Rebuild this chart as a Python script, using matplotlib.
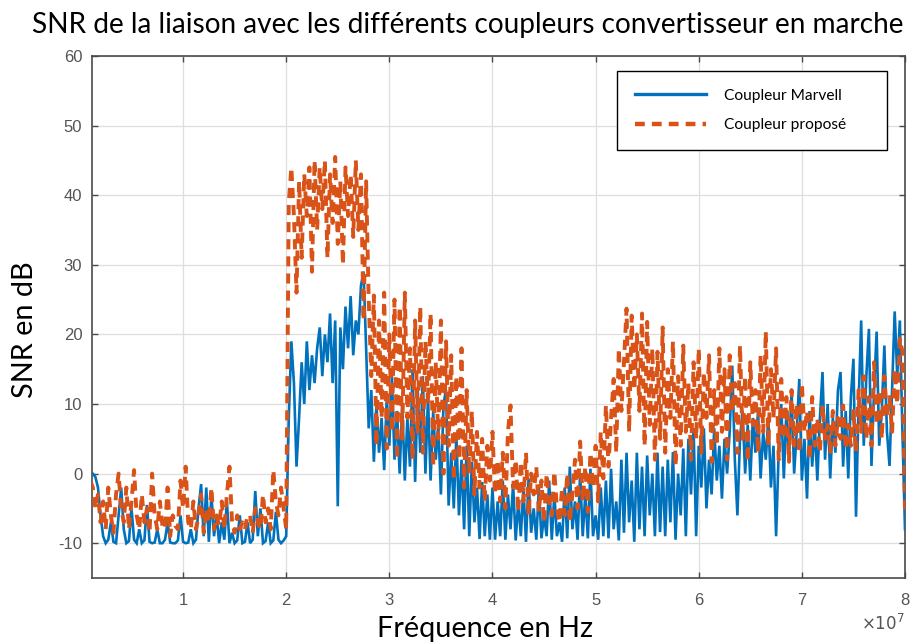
import numpy as np
import matplotlib
matplotlib.use("Agg")
import matplotlib.pyplot as plt
from matplotlib.lines import Line2D

# Frequency sampling grid (MHz), 0.25 MHz steps from 1 to 80 MHz
freq_mhz = np.arange(1.0, 80.001, 0.25)

# SNR (dB) with the Marvell coupler, one row per 5 MHz
snr_marvell = [
    0, 0, -0.5, -2, -6, -9, -10, -9.5, -7, -9.8, -10, -6, -2, -8, -10, -9.7, -5, -9.5, -10, -8,
    -10, -9.6, -4.5, -9.8, -10, -9.9, -8, -10, -10, -9.5, -7, -9.9, -10, -10, -9.6, -6, -9.8, -10, -9.9, -8,
    -10, -9.5, -5, -1.5, -9, -2, -9.8, -3, -9, -6, -10, -7, -9.5, -4, -10, -8.5, -10, -9.6, -6, -10,
    -9.8, -7, -10, -9.5, -2.5, -9, -5, -10, -9.7, -7, -10, -9.6, -5.5, -9.5, -10, -9.6, -9, 8, 19, 13,
    1, 8, 16, 10, 19, 12, 17, 13, 18, 21, 14, 20, 16, 23, 13, 22, -4.7, 21, 15, 24,
    18, 25.5, 17, 22, 20, 27, 29, 18, 6.5, 12, 1.7, 10, 3, 8, 0.5, 11, 4, 14, 2, 9,
    0, 10, -1, 8, 1, 15, -1.2, 12, 3, 14, 0, 11, -1, 9, 2, 7, -3, 10, 12, -4.6,
    3, -5, 5.5, -6, 2, -8, 4, -9, 1.7, -7, -2, -9.4, -1.2, -9, -3, -9.5, -2, -9.5, -4, -9,
    -1, -9.5, -3, -8, -1.5, -9.6, -4, -9, -2, -9.8, -0.7, -8.5, -5, -9.5, -2, -9.3, -6, -9, -1, -9.5,
    -3, -9, -7, -9.8, -2, -9.3, 1, -8, -4, -9.5, 0, -9, -3, -9.3, 0.7, -9, -6, -9.5, -2, -9,
    -1, -9.3, 0.7, -8, -4, -9.6, 2, -8.5, 3, -7, -1, -9.8, 3, -8, 1, -9, 2.6, -6, 0, -9,
    3, -8.4, 1, -9, 2, -7, 3.1, -9.5, 0, -6, 3.6, -9, 5, -3, 6.5, -9, 4, -2, 6.5, -5,
    2, -3, 6.5, -1, 4, -3.6, 5, 0, 6, 15.5, 2, -6, 5, 9, 0, 7, -1, 8, 3, 9,
    -0.7, 6, 2, 8, -2, 4, -9, 3, 10, -0.7, 9, 2, 12, 0, 6, 13.6, -1, 5, -3.6, 9,
    1, 7, -1, 8, 14.6, 2, 10, -0.7, 8, 3, 12, 14.6, 1, 9, -0.7, 11, 16.5, -6.2, 10, 22,
    4, 14, 20.8, 1.1, 12, 20.4, 4, 9, 18.4, 6, 1.1, 12, 23.3, 14, 22, 6, -8,
]

# SNR (dB) with the proposed coupler, one row per 5 MHz
snr_propose = [
    -1, -2, -5, -3, -7, -4, -8, -2, -6, -8.5, -3, 0, -5, -7, -2, -8, -4, 0.5, -6, -8,
    -3, -7, -5, -8.5, 0, -6, -8, -4, -7.5, -8, -2, -9, -6, -7.5, -8, -1, -5, 1, -7, -8,
    -4, -8, -6, -3, -8.5, -5, -7, -2, -8, -6, -7.5, -4, -8, -3, 1, -7, -8.5, -6, -8, -7,
    -8, -6, -6, -8.5, -5, -7, -8, -3, -7, -5, -8, 0.5, -4, -6, -2, -5, -8, 39, 44, 37,
    26, 42, 31, 43, 37, 44, 29, 45, 35, 44, 38, 45, 31, 43, 36, 45.5, 33, 42, 30, 44,
    37, 43, 34, 45, 35, 43, 22, 42, 25, 14, 25.6, 4, 22, 8, 26, 3.6, 20, 6, 25, 2,
    24, 5, 26, 8, 18, 2, 22, 6, 24, 3, 19, 10, 23, 1, 16, 5, 22, 0, 19, 4,
    17, -1, 14, 2, 18, -2, 12, 0, 9, -3, 6, -2, 5, -4, 4, -1, 6, -3, 2, -4,
    3, -5, 6, 9.8, -2, 2, -5.5, 1.7, -4, 3, -6, 0, -3, 1, -5.5, -1, -7, 0, -4, -6,
    0.3, -5, -7, -2, -6, 0, -7, -3, 2, -5, 4.6, -4, 1, -5.5, 3, -2, 4, -4, 6, -0.7,
    9.8, 1, 8, 13.6, 3, 18, 9, 16, 23.7, 6, 22.7, 12, 20, 9, 23, 4, 21.8, 7, 18, 2,
    17.5, 5, 21, 3, 15, 8, 19, 1.1, 14, 4, 18.4, 6, 13, 2, 16, 5, 18, 3, 14.6, 8,
    17, 1.7, 12, 4, 18, 6, 15, 2, 17, 9, 13, 3, 18.4, 5, 14, 1.7, 16, 7, 12, 3,
    17, 6, 20.4, 4, 15, 8, 18, 2, 13.6, 5, 11, 1.7, 12, 4, 10, 3, 13, 6, 9, 2,
    11, 4, 8, 3.1, 9.8, 5, 7, 3.1, 9, 4, 8, 5, 9.8, 3.5, 7, 4, 9, 3.1, 12, 6,
    14, 5, 11, 4, 16, 7, 12, 5, 14, 8, 11, 6, 15, 10, 19.4, 17.5, -5.5,
]

series_labels = ["Coupleur Marvell", "Coupleur proposé"]
series_colors = ["#0072BD", "#D95319"]

x_ticks_hz = [1e7, 2e7, 3e7, 4e7, 5e7, 6e7, 7e7, 8e7]
x_tick_labels = ["1", "2", "3", "4", "5", "6", "7", "8"]
y_ticks = [-10, 0, 10, 20, 30, 40, 50, 60]

title_text = "SNR de la liaison avec les différents coupleurs convertisseur en marche"
x_label = "Fréquence en Hz"
y_label = "SNR en dB"

label_font = "Lato"
tick_font = "Liberation Sans"
axis_gray = "#555555"

W, H = 915, 643
fig = plt.figure(figsize=(W / 100, H / 100), dpi=100)
ax = fig.add_axes([92 / W, 1 - 578 / H, 813 / W, 522 / H])

freq_hz = freq_mhz * 1e6
ax.plot(freq_hz, snr_marvell, color=series_colors[0], lw=1.9, solid_joinstyle="miter", zorder=3)
line_p, = ax.plot(freq_hz, snr_propose, color=series_colors[1], lw=2.8, zorder=4)
line_p.set_dashes([2.6, 1.8])

ax.set_xlim(1.17e6, 8e7)
ax.set_ylim(-15, 60)
ax.set_xticks(x_ticks_hz)
ax.set_xticklabels(x_tick_labels)
ax.set_yticks(y_ticks)
ax.set_yticklabels([str(v) for v in y_ticks])

ax.grid(True, color="#dedede", lw=0.9)
ax.set_axisbelow(True)
for s in ax.spines.values():
    s.set_color("#4a4a4a")
    s.set_linewidth(1.2)
ax.tick_params(axis="both", direction="in", length=4, width=1, colors="#4a4a4a",
               top=True, right=True, labelsize=12, labelcolor=axis_gray)
ax.tick_params(axis="x", pad=11)
ax.tick_params(axis="y", pad=7)
for lab in ax.get_xticklabels() + ax.get_yticklabels():
    lab.set_fontfamily(tick_font)

# Exponent marker of the frequency axis
fig.text(905 / W, 1 - 630 / H, r"$\times10^{7}$", ha="right", va="baseline",
         fontsize=12, color=axis_gray, family=tick_font)

fig.text(468 / W, 1 - 33 / H, title_text, ha="center", va="baseline",
         fontsize=20.2, family=label_font, color="black")
fig.text(485 / W, 1 - 637 / H, x_label, ha="center", va="baseline",
         fontsize=20.8, family=label_font, color="black")
fig.text(25 / W, 1 - 330 / H, y_label, ha="center", va="center", rotation=90,
         fontsize=20.8, family=label_font, color="black")

handles = [
    Line2D([], [], color=series_colors[0], lw=2.4),
    Line2D([], [], color=series_colors[1], lw=3.2, dashes=[2.2, 1.6]),
]
leg = ax.legend(handles, series_labels, loc="upper left",
                bbox_to_anchor=((617 - 92) / 813, (578 - 71) / 522, 270 / 813, 0.0),
                mode="expand", fancybox=False, framealpha=1, edgecolor="black",
                prop={"family": label_font, "size": 11.2}, handlelength=4.6,
                handletextpad=1.1, borderpad=1.15, labelspacing=1.0, borderaxespad=0)
leg.get_frame().set_linewidth(1.0)
leg.set_zorder(10)

fig.savefig("out.png", dpi=100)
